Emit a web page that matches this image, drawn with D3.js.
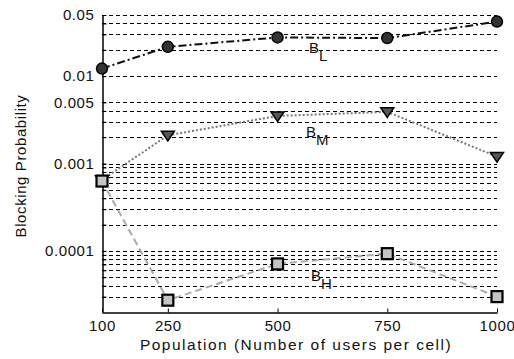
<!DOCTYPE html>
<html>
<head>
<meta charset="utf-8">
<script src="https://cdn.jsdelivr.net/npm/d3@7"></script>
<style>
  body { margin: 0; background: #fff; }
  svg { display: block; font-family: "Liberation Sans", Arial, sans-serif; }
</style>
</head>
<body>
<div id="chart"></div>
<script>
// population (users per cell)
const population = [100, 250, 500, 750, 1000];
// blocking probabilities per class
const blockingL = [0.0122, 0.0216, 0.0277, 0.0272, 0.042];
const blockingM = [0.00065, 0.0021, 0.0035, 0.0039, 0.0012];
const blockingH = [0.00063, 0.0000273, 0.000071, 0.000093, 0.00003];
const yTickValues = [0.05, 0.01, 0.005, 0.001, 0.0001];
const yTickLabels = ['0.05', '0.01', '0.005', '0.001', '0.0001'];
const gridValues = [0.05, 0.04, 0.03, 0.02, 0.01, 0.005, 0.004, 0.003, 0.002,
  0.001, 0.0009, 0.0008, 0.0007, 0.0006, 0.0005, 0.0004, 0.0003, 0.0002,
  0.0001, 0.00009, 0.00008, 0.00007, 0.00006, 0.00005, 0.00004, 0.00003];

const width = 514;
const height = 359;
const margin = {left: 102, right: 497, top: 15, bottom: 312};
const font = '"Liberation Sans", Arial, sans-serif';

const svg = d3.select('#chart').append('svg')
  .attr('width', width)
  .attr('height', height);

const x = d3.scaleLinear().domain([100, 1000]).range([margin.left, margin.right]);
const y = d3.scaleLog().domain([0.00002, 0.05]).range([margin.bottom, margin.top]);

// dashed grid
svg.append('g')
  .selectAll('line')
  .data(gridValues)
  .join('line')
  .attr('x1', margin.left)
  .attr('x2', margin.right)
  .attr('y1', d => Math.round(y(d)) + 0.5)
  .attr('y2', d => Math.round(y(d)) + 0.5)
  .attr('stroke', '#000')
  .attr('stroke-width', 1)
  .attr('stroke-dasharray', '4,3');

const xAxis = svg.append('g')
  .attr('transform', `translate(0,${margin.bottom + 0.5})`)
  .call(d3.axisBottom(x).tickValues(population).tickFormat(d3.format('d'))
    .tickSizeInner(-4).tickSizeOuter(0).tickPadding(8));
xAxis.select('.domain').attr('stroke', '#000').attr('stroke-width', 1.5);
xAxis.selectAll('.tick line').attr('stroke', '#000');
xAxis.selectAll('text').attr('font-size', 15).attr('fill', '#111')
  .attr('font-family', font).attr('letter-spacing', 0.6);

const yAxis = svg.append('g')
  .attr('transform', `translate(${margin.left + 0.5},0)`)
  .call(d3.axisLeft(y).tickValues(gridValues)
    .tickFormat(d => {
      const i = yTickValues.indexOf(d);
      return i < 0 ? '' : yTickLabels[i];
    })
    .tickSizeInner(-4).tickSizeOuter(0).tickPadding(8));
yAxis.select('.domain').attr('stroke', '#000').attr('stroke-width', 1.5);
yAxis.selectAll('.tick line').attr('stroke', '#000');
yAxis.selectAll('text').attr('font-size', 15).attr('fill', '#111')
  .attr('font-family', font).attr('letter-spacing', 0.6);

// axis titles
svg.append('text')
  .attr('x', 296)
  .attr('y', 350)
  .attr('text-anchor', 'middle')
  .attr('font-size', 15.5)
  .attr('letter-spacing', 1.5)
  .attr('fill', '#111')
  .text('Population (Number of users per cell)');

svg.append('text')
  .attr('transform', 'translate(26,166) rotate(-90)')
  .attr('text-anchor', 'middle')
  .attr('font-size', 15)
  .attr('letter-spacing', 0.6)
  .attr('fill', '#111')
  .text('Blocking Probability');

const line = d3.line()
  .x((d, i) => x(population[i]))
  .y(d => y(d));

// B_H : light grey dashed, squares
svg.append('path')
  .datum(blockingH)
  .attr('d', line)
  .attr('fill', 'none')
  .attr('stroke', '#aaa')
  .attr('stroke-width', 2)
  .attr('stroke-dasharray', '7,4');

// B_M : dotted, triangles
svg.append('path')
  .datum(blockingM)
  .attr('d', line)
  .attr('fill', 'none')
  .attr('stroke', '#777')
  .attr('stroke-width', 2)
  .attr('stroke-dasharray', '2,2');

// B_L : black dash-dot, circles
svg.append('path')
  .datum(blockingL)
  .attr('d', line)
  .attr('fill', 'none')
  .attr('stroke', '#111')
  .attr('stroke-width', 2)
  .attr('stroke-dasharray', '8,3,2,3');

svg.append('g')
  .selectAll('circle')
  .data(blockingL)
  .join('circle')
  .attr('cx', (d, i) => x(population[i]))
  .attr('cy', d => y(d))
  .attr('r', 5.5)
  .attr('fill', '#333')
  .attr('stroke', '#000')
  .attr('stroke-width', 1.5);

svg.append('g')
  .selectAll('path')
  .data(blockingM)
  .join('path')
  .attr('transform', (d, i) => `translate(${x(population[i])},${y(d)})`)
  .attr('d', 'M-6.5,-4L6.5,-4L0,5.5Z')
  .attr('fill', '#555')
  .attr('stroke', '#000')
  .attr('stroke-width', 1.5);

svg.append('g')
  .selectAll('rect')
  .data(blockingH)
  .join('rect')
  .attr('x', (d, i) => x(population[i]) - 5.5)
  .attr('y', d => y(d) - 5.5)
  .attr('width', 11)
  .attr('height', 11)
  .attr('fill', '#c4c4c4')
  .attr('stroke', '#000')
  .attr('stroke-width', 2.2);

// series labels
const labels = [
  {name: 'B', sub: 'L', x: 309, y: 53},
  {name: 'B', sub: 'M', x: 306, y: 137},
  {name: 'B', sub: 'H', x: 311, y: 281}
];
labels.forEach(l => {
  const t = svg.append('text')
    .attr('x', l.x)
    .attr('y', l.y)
    .attr('font-size', 15)
    .attr('fill', '#111');
  t.append('tspan').text(l.name);
  t.append('tspan').attr('dy', 8).attr('font-size', 15).text(l.sub);
});
</script>
</body>
</html>
